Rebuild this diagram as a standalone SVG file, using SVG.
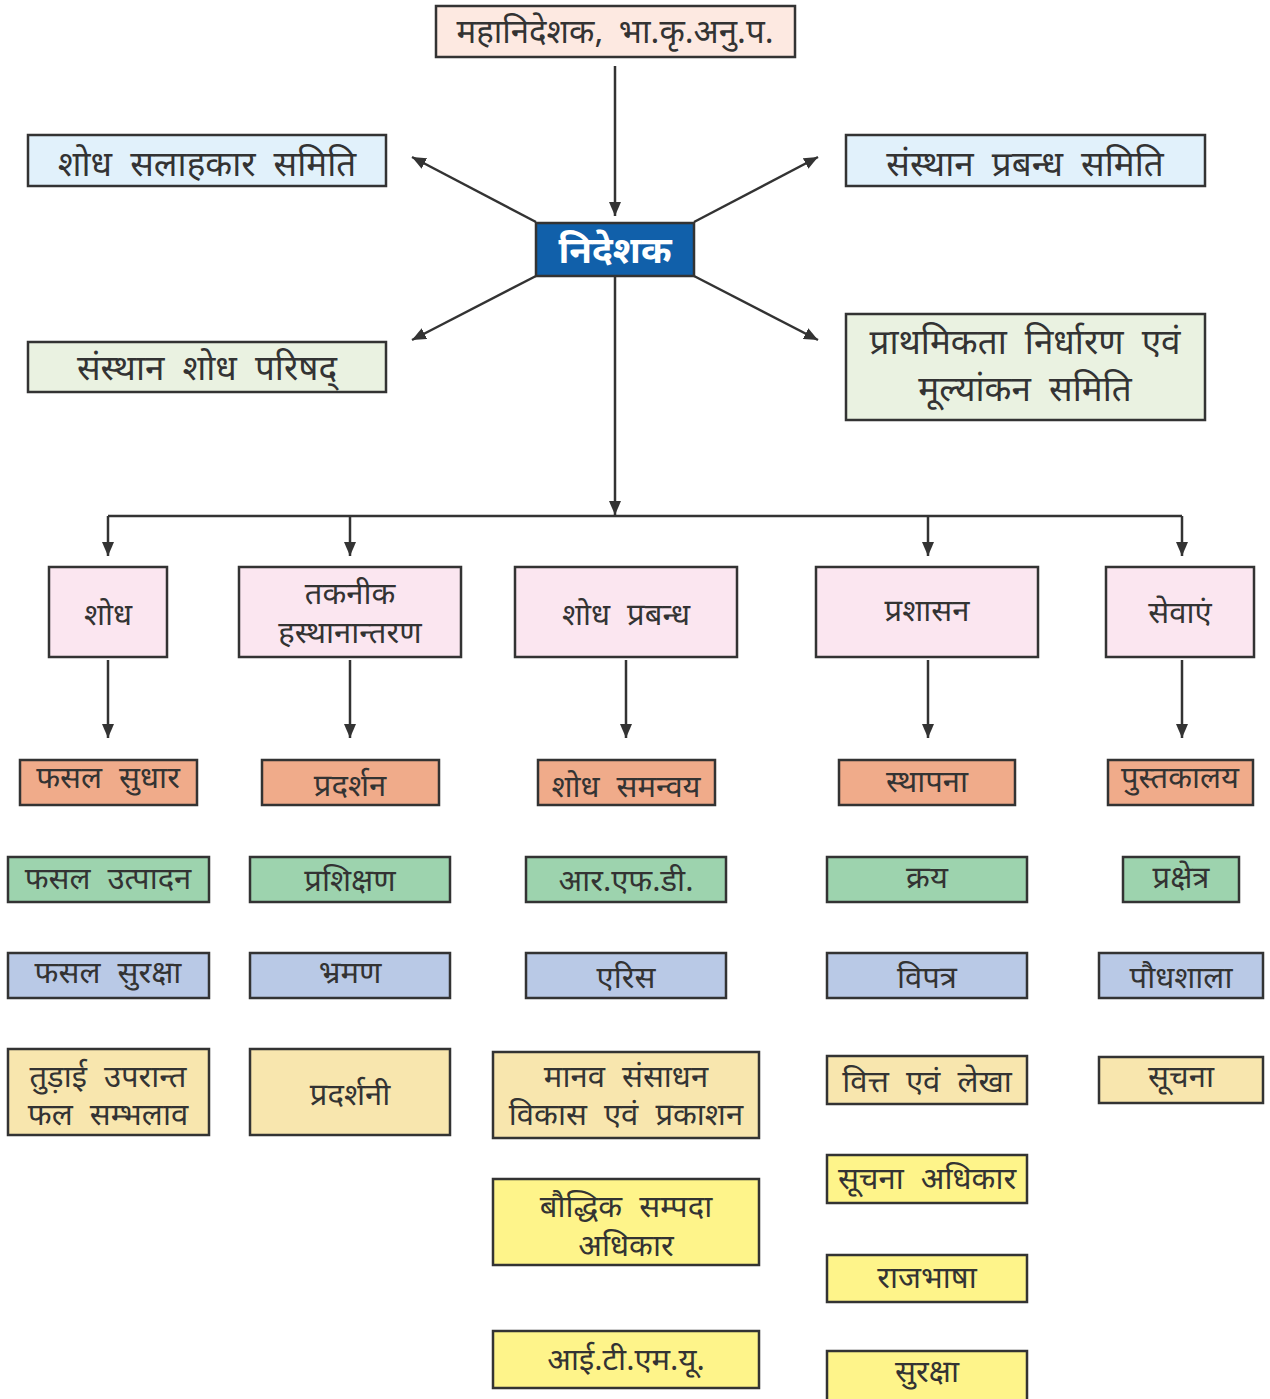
<svg xmlns="http://www.w3.org/2000/svg" width="1270" height="1399" viewBox="0 0 1270 1399">
<defs>
<marker id="ah" viewBox="0 0 14 12" refX="14" refY="6" markerWidth="14" markerHeight="12" orient="auto" markerUnits="userSpaceOnUse">
<path d="M0,0 L14,6 L0,12 z" fill="#333" stroke="none"/>
</marker>
<style>
rect{stroke:#333;stroke-width:2.5}
text{font-family:"Noto Sans","Noto Sans Devanagari","Lohit Devanagari",sans-serif;font-size:31px;word-spacing:9px;fill:#333;text-anchor:middle}
.big{font-size:35px;word-spacing:9px}
.title{font-size:33px;word-spacing:7px}
.dir{font-size:37px;font-weight:bold;fill:#fff}
.c line,.c path{stroke:#333;stroke-width:2.5;fill:none}
.peach{fill:#fde9e1}.sky{fill:#e1f1fb}.lg{fill:#eaf2e1}.pink{fill:#fbe6f0}
.or{fill:#f0ab8a}.gr{fill:#9dd3ae}.bl{fill:#b9c9e6}.ly{fill:#f8e6ae}.by{fill:#fef48a}
</style>
</defs>
<g class="c" id="connectors">
<line x1="615" y1="66" x2="615" y2="216" marker-end="url(#ah)"/>
<line x1="536" y1="222" x2="412" y2="157" marker-end="url(#ah)"/>
<line x1="694" y1="222" x2="818" y2="157" marker-end="url(#ah)"/>
<line x1="536" y1="276" x2="412" y2="340" marker-end="url(#ah)"/>
<line x1="694" y1="276" x2="818" y2="340" marker-end="url(#ah)"/>
<line x1="615" y1="276" x2="615" y2="515" marker-end="url(#ah)"/>
<path d="M108,516 H1182"/>
<line x1="108" y1="516" x2="108" y2="556" marker-end="url(#ah)"/>
<line x1="350" y1="516" x2="350" y2="556" marker-end="url(#ah)"/>
<line x1="928" y1="516" x2="928" y2="556" marker-end="url(#ah)"/>
<line x1="1182" y1="516" x2="1182" y2="556" marker-end="url(#ah)"/>
<line x1="108" y1="660" x2="108" y2="738" marker-end="url(#ah)"/>
<line x1="350" y1="660" x2="350" y2="738" marker-end="url(#ah)"/>
<line x1="626" y1="660" x2="626" y2="738" marker-end="url(#ah)"/>
<line x1="928" y1="660" x2="928" y2="738" marker-end="url(#ah)"/>
<line x1="1182" y1="660" x2="1182" y2="738" marker-end="url(#ah)"/>
</g>
<g id="n-dg"><rect class="peach" x="436" y="6" width="359" height="51"/><text class="title" x="615" y="43">महानिदेशक, भा.कृ.अनु.प.</text></g>
<g id="n-dir"><rect x="536" y="223" width="158" height="53" fill="#1160aa"/><text class="dir" x="615" y="263">निदेशक</text></g>
<g id="n-ssa"><rect class="sky" x="28" y="135" width="358" height="51"/><text class="big" x="207" y="176">शोध सलाहकार समिति</text></g>
<g id="n-spr"><rect class="sky" x="846" y="135" width="359" height="51"/><text class="big" x="1025" y="176">संस्थान प्रबन्ध समिति</text></g>
<g id="n-ssp"><rect class="lg" x="28" y="342" width="358" height="50"/><text class="big" x="207" y="380">संस्थान शोध परिषद्</text></g>
<g id="n-pnm"><rect class="lg" x="846" y="314" width="359" height="106"/><text class="big" x="1025" y="354">प्राथमिकता निर्धारण एवं</text><text class="big" x="1025" y="401">मूल्यांकन समिति</text></g>

<g id="n-shodh"><rect class="pink" x="49" y="567" width="118" height="90"/><text x="108" y="625">शोध</text></g>
<g id="n-tak"><rect class="pink" x="239" y="567" width="222" height="90"/><text x="350" y="604">तकनीक</text><text x="350" y="643">हस्थानान्तरण</text></g>
<g id="n-sp"><rect class="pink" x="515" y="567" width="222" height="90"/><text x="626" y="625">शोध प्रबन्ध</text></g>
<g id="n-pra"><rect class="pink" x="816" y="567" width="222" height="90"/><text x="927" y="621">प्रशासन</text></g>
<g id="n-sev"><rect class="pink" x="1106" y="567" width="148" height="90"/><text x="1180" y="623">सेवाएं</text></g>

<g id="n-r1a"><rect class="or" x="20" y="760" width="177" height="45"/><text x="108" y="788">फसल सुधार</text></g>
<g id="n-r1b"><rect class="or" x="262" y="760" width="177" height="45"/><text x="350" y="796">प्रदर्शन</text></g>
<g id="n-r1c"><rect class="or" x="538" y="760" width="177" height="45"/><text x="626" y="797">शोध समन्वय</text></g>
<g id="n-r1d"><rect class="or" x="839" y="760" width="176" height="45"/><text x="927" y="792">स्थापना</text></g>
<g id="n-r1e"><rect class="or" x="1108" y="760" width="145" height="45"/><text x="1180" y="788">पुस्तकालय</text></g>

<g id="n-r2a"><rect class="gr" x="8" y="857" width="201" height="45"/><text x="108" y="889">फसल उत्पादन</text></g>
<g id="n-r2b"><rect class="gr" x="250" y="857" width="200" height="45"/><text x="350" y="891">प्रशिक्षण</text></g>
<g id="n-r2c"><rect class="gr" x="526" y="857" width="200" height="45"/><text x="626" y="891">आर.एफ.डी.</text></g>
<g id="n-r2d"><rect class="gr" x="827" y="857" width="200" height="45"/><text x="927" y="888">क्रय</text></g>
<g id="n-r2e"><rect class="gr" x="1123" y="857" width="116" height="45"/><text x="1181" y="888">प्रक्षेत्र</text></g>

<g id="n-r3a"><rect class="bl" x="8" y="953" width="201" height="45"/><text x="108" y="983">फसल सुरक्षा</text></g>
<g id="n-r3b"><rect class="bl" x="250" y="953" width="200" height="45"/><text x="350" y="983">भ्रमण</text></g>
<g id="n-r3c"><rect class="bl" x="526" y="953" width="200" height="45"/><text x="626" y="988">एरिस</text></g>
<g id="n-r3d"><rect class="bl" x="827" y="953" width="200" height="45"/><text x="927" y="988">विपत्र</text></g>
<g id="n-r3e"><rect class="bl" x="1099" y="953" width="164" height="45"/><text x="1181" y="988">पौधशाला</text></g>

<g id="n-r4a"><rect class="ly" x="8" y="1049" width="201" height="86"/><text x="108" y="1087">तुड़ाई उपरान्त</text><text x="108" y="1125">फल सम्भलाव</text></g>
<g id="n-r4b"><rect class="ly" x="250" y="1049" width="200" height="86"/><text x="350" y="1105">प्रदर्शनी</text></g>
<g id="n-r4c"><rect class="ly" x="493" y="1052" width="266" height="86"/><text x="626" y="1087">मानव संसाधन</text><text x="626" y="1125">विकास एवं प्रकाशन</text></g>
<g id="n-r4d"><rect class="ly" x="827" y="1056" width="200" height="48"/><text x="927" y="1092">वित्त एवं लेखा</text></g>
<g id="n-r4e"><rect class="ly" x="1099" y="1057" width="164" height="46"/><text x="1181" y="1087">सूचना</text></g>

<g id="n-ipr"><rect class="by" x="493" y="1179" width="266" height="86"/><text x="626" y="1217">बौद्धिक सम्पदा</text><text x="626" y="1256">अधिकार</text></g>
<g id="n-rti"><rect class="by" x="827" y="1155" width="200" height="48"/><text x="927" y="1189">सूचना अधिकार</text></g>
<g id="n-raj"><rect class="by" x="827" y="1255" width="200" height="47"/><text x="927" y="1288">राजभाषा</text></g>
<g id="n-itmu"><rect class="by" x="493" y="1331" width="266" height="57"/><text x="626" y="1370">आई.टी.एम.यू.</text></g>
<g id="n-sur"><rect class="by" x="827" y="1351" width="200" height="56"/><text x="927" y="1382">सुरक्षा</text></g>
</svg>
